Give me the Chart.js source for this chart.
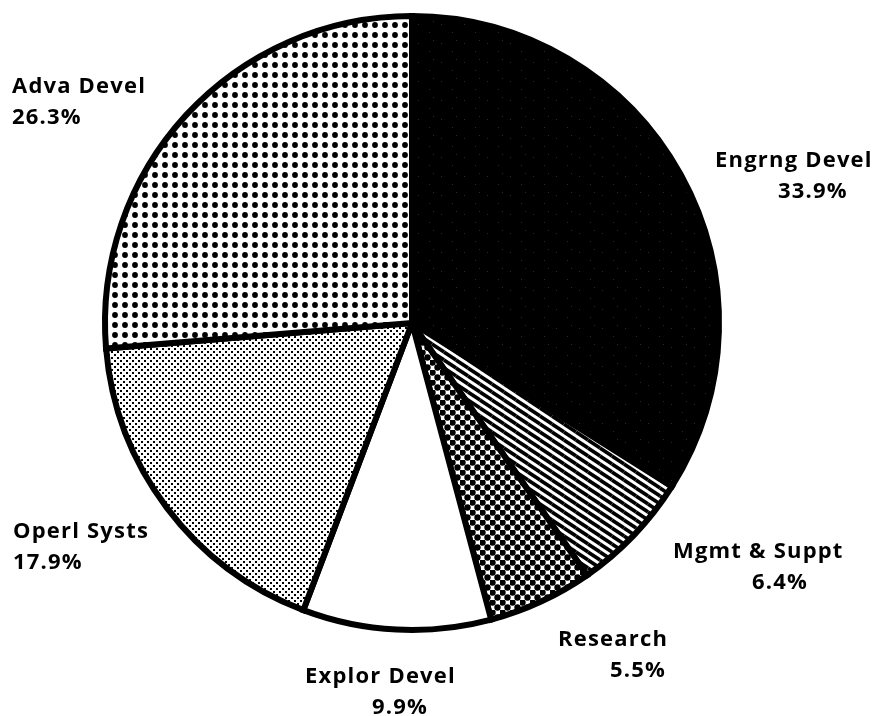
<!DOCTYPE html>
<html>
<head>
<meta charset="utf-8">
<script src="https://cdn.jsdelivr.net/npm/chart.js@4"></script>
<style>
  html, body { margin: 0; padding: 0; background: #fff; }
  #wrap { width: 884px; height: 716px; position: relative; }
</style>
</head>
<body>
<div id="wrap"><canvas id="pie"></canvas></div>
<script>
const labels = ["Engrng Devel", "Mgmt & Suppt", "Research", "Explor Devel", "Operl Systs", "Adva Devel"];
const shares = [33.9, 6.4, 5.5, 9.9, 17.9, 26.3];
const shareText = ["33.9%", "6.4%", "5.5%", "9.9%", "17.9%", "26.3%"];

// label placement: [x of name, baseline of name, x of percent, baseline of percent]
const labelPos = [
  [715, 167, 778, 198],
  [673, 558, 752, 589],
  [558, 646, 610, 677],
  [305, 683, 372, 714],
  [13, 538, 13, 569],
  [12, 93, 12, 124],
];

function tile(w, h, paint) {
  const c = document.createElement("canvas");
  c.width = w;
  c.height = h;
  const g = c.getContext("2d");
  paint(g);
  return g.createPattern(c, "repeat");
}

// near solid black with a few faint specks
const blackSpeck = tile(23, 19, (g) => {
  g.fillStyle = "#000";
  g.fillRect(0, 0, 23, 19);
  g.fillStyle = "#2a2a2a";
  g.fillRect(4, 5, 1, 1);
  g.fillRect(15, 13, 1, 1);
  g.fillRect(19, 2, 1, 1);
});

// diagonal stripes
const stripes = tile(12, 8, (g) => {
  g.fillStyle = "#fff";
  g.fillRect(0, 0, 12, 8);
  g.strokeStyle = "#000";
  g.lineWidth = 3.6;
  for (let dx = -12; dx <= 12; dx += 12) {
    for (let dy = -8; dy <= 8; dy += 8) {
      g.beginPath();
      g.moveTo(dx, dy);
      g.lineTo(dx + 12, dy + 8);
      g.stroke();
    }
  }
});

// dark blobs with white lattice
const lattice = tile(10, 10, (g) => {
  g.fillStyle = "#fff";
  g.fillRect(0, 0, 10, 10);
  g.fillStyle = "#000";
  [[2.5, 2.5], [7.5, 7.5], [-2.5, 7.5], [12.5, 7.5], [7.5, -2.5], [7.5, 12.5], [-2.5, -2.5], [12.5, 12.5]].forEach(([x, y]) => {
    g.beginPath();
    g.arc(x, y, 3.2, 0, Math.PI * 2);
    g.fill();
  });
});

// fine grey screen, 45 degree
const fineDots = tile(6, 6, (g) => {
  g.fillStyle = "#fff";
  g.fillRect(0, 0, 6, 6);
  g.fillStyle = "#000";
  g.fillRect(0, 0, 2, 2);
  g.fillRect(3, 3, 2, 2);
});

// big dot grid
const bigDots = tile(10, 10, (g) => {
  g.fillStyle = "#fff";
  g.fillRect(0, 0, 10, 10);
  g.fillStyle = "#000";
  g.beginPath();
  g.arc(5, 5, 2.9, 0, Math.PI * 2);
  g.fill();
});

const fills = [blackSpeck, stripes, lattice, "#ffffff", fineDots, bigDots];

const labelPlugin = {
  id: "pieLabels",
  afterDraw(chart) {
    const ctx = chart.ctx;
    ctx.save();
    ctx.fillStyle = "#000";
    ctx.font = 'bold 22px "Open Sans"';
    ctx.letterSpacing = "1.2px";
    ctx.textAlign = "left";
    ctx.textBaseline = "alphabetic";
    labels.forEach((name, i) => {
      const p = labelPos[i];
      ctx.fillText(name, p[0], p[1]);
      ctx.fillText(shareText[i], p[2], p[3]);
    });
    ctx.restore();
  },
};

const config = {
  type: "pie",
  data: {
    labels: labels,
    datasets: [
      {
        data: shares,
        backgroundColor: fills,
        borderColor: "#000",
        borderWidth: 6,
        borderJoinStyle: "miter",
      },
    ],
  },
  options: {
    responsive: false,
    animation: false,
    layout: {
      padding: { left: 102, top: 13, right: 162, bottom: 83 },
    },
    plugins: {
      legend: { display: false },
      tooltip: { enabled: false },
      title: { display: false },
    },
  },
  plugins: [labelPlugin],
};

const canvas = document.getElementById("pie");
canvas.width = 884;
canvas.height = 716;
const myChart = new Chart(canvas.getContext("2d"), config);
</script>
</body>
</html>
